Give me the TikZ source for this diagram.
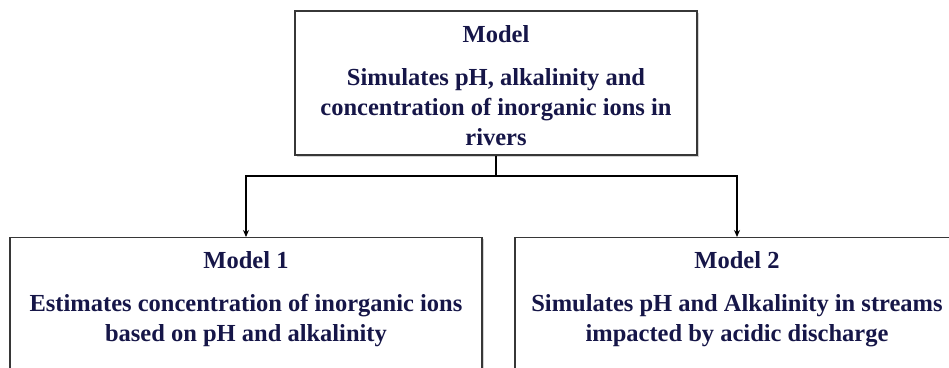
\documentclass[tikz,border=0pt]{standalone}
\usepackage{fontspec}
\setmainfont{Liberation Serif}
\usetikzlibrary{arrows.meta,shadows}
\definecolor{inkblue}{RGB}{22,22,72}
\definecolor{boxline}{RGB}{55,55,55}
\begin{document}
\begin{tikzpicture}[x=1pt,y=-1pt,
  modelbox/.style={draw=boxline,line width=1.4pt,fill=white,inner sep=0pt,
    drop shadow={shadow xshift=1.5pt,shadow yshift=-1.5pt,opacity=0.35}},
  label/.style={inner sep=0pt,anchor=north,align=center,text=inkblue,
    font=\fontsize{24.5}{30}\selectfont\bfseries},
  conn/.style={draw=black,line width=1.8pt},
  tip/.style={-{Stealth[length=7pt,width=6pt]}}]
  \useasboundingbox (0,0) rectangle (949,367);
  \clip (0,0) rectangle (949,367);
  % boxes
  \node[modelbox,minimum width=402pt,minimum height=144pt] (top) at (496,83) {};
  \node[modelbox,anchor=north,minimum width=472pt,minimum height=200pt] (m1) at (246,237) {};
  \node[modelbox,anchor=north,minimum width=444pt,minimum height=200pt] (m2) at (737,237) {};
  % texts
  \node[label] (toptext) at (496,25) {Model\\[13pt]Simulates pH, alkalinity and\\concentration of inorganic ions in\\rivers};
  \node[label] (m1text) at (246,251) {Model 1\\[13pt]Estimates concentration of inorganic ions\\based on pH and alkalinity};
  \node[label] (m2text) at (737,251) {Model 2\\[13pt]Simulates pH and Alkalinity in streams\\impacted by acidic discharge};
  % connectors
  \draw[conn,tip] (top.south) -- ++(0,20) -| (m1.north);
  \draw[conn,tip] (top.south) -- ++(0,20) -| (m2.north);
\end{tikzpicture}
\end{document}
